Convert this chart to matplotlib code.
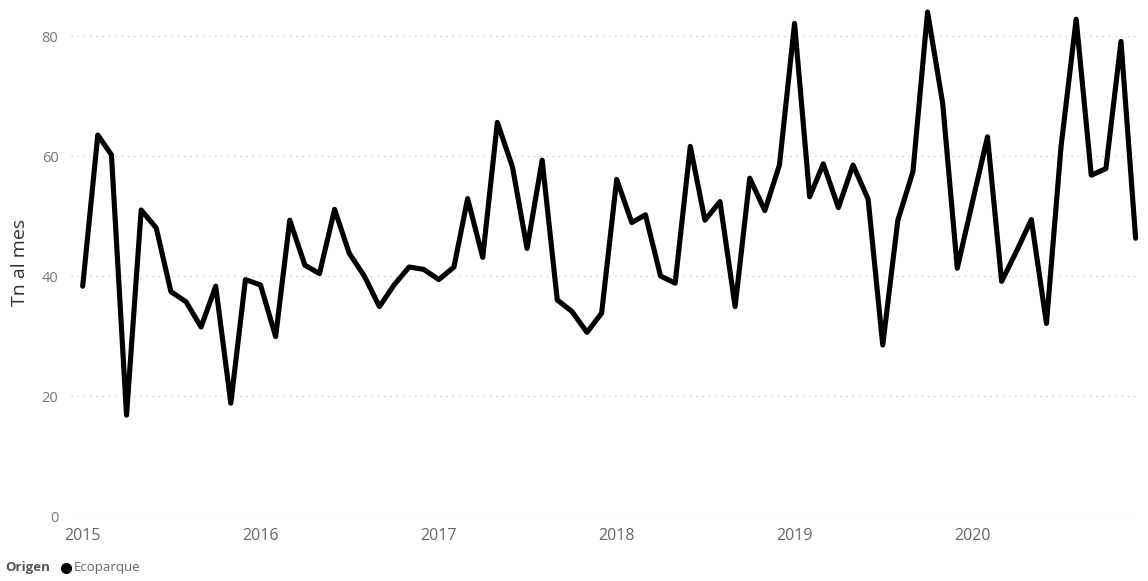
import matplotlib
matplotlib.use("Agg")
import matplotlib.pyplot as plt
import pandas as pd
import numpy as np

# ---- data ----
start_month = "2015-01-01"
values = [
    38.3, 63.5, 60.2, 16.8, 51.0, 48.0, 37.4, 35.7, 31.5, 38.3, 18.8, 39.4,   # 2015
    38.5, 29.9, 49.3, 41.8, 40.4, 51.1, 43.8, 40.0, 34.9, 38.5, 41.5, 41.1,   # 2016
    39.4, 41.5, 52.9, 43.1, 65.6, 58.2, 44.6, 59.3, 36.0, 34.1, 30.6, 33.8,   # 2017
    56.1, 48.9, 50.2, 40.0, 38.8, 61.6, 49.3, 52.4, 34.9, 56.3, 50.9, 58.5,   # 2018
    82.1, 53.2, 58.7, 51.4, 58.5, 52.8, 28.5, 49.3, 57.4, 84.0, 68.8, 41.3,   # 2019
    52.3, 63.2, 39.1, 44.2, 49.4, 32.1, 61.6, 82.8, 56.8, 57.9, 79.1, 46.3,   # 2020
]
year_labels = ["2015", "2016", "2017", "2018", "2019", "2020"]
y_ticks = [0, 20, 40, 60, 80]
series_name = "Ecoparque"
legend_title = "Origen"
y_title = "Tn al mes"

dates = pd.date_range(start_month, periods=len(values), freq="MS")
year_ticks = pd.to_datetime([f"{y}-01-01" for y in year_labels])

# ---- figure ----
W, H = 1148, 581
fig = plt.figure(figsize=(W / 100, H / 100), dpi=100)
ax = fig.add_axes([71 / W, 65 / H, (1140 - 71) / W, 516 / H])

ax.plot(dates, values, color="black", linewidth=3.7,
        solid_joinstyle="round", solid_capstyle="round", clip_on=True)

ax.set_ylim(0, 86)
ax.set_xlim(dates[0] - pd.Timedelta(days=24), dates[-1] + pd.Timedelta(days=9))

ax.set_yticks(y_ticks)
ax.set_yticklabels([str(v) for v in y_ticks])
ax.set_xticks(year_ticks)
ax.set_xticklabels(year_labels)

ax.grid(axis="y", color="#c8c8c8", linewidth=0.9, linestyle=(0, (1, 4)))
ax.grid(axis="x", visible=False)
ax.set_axisbelow(True)
for s in ax.spines.values():
    s.set_visible(False)

ax.tick_params(axis="y", length=0, pad=9, labelsize=10.5, labelcolor="#707a85")
ax.tick_params(axis="x", length=0, pad=9, labelsize=11.5, labelcolor="#666666")
for t in ax.get_yticklabels() + ax.get_xticklabels():
    t.set_fontfamily("Open Sans")

fig.text(20 / W, 1 - 262 / H, y_title, rotation=90, ha="center", va="center",
         fontsize=14, color="#333333", family="Open Sans")

# legend
fig.text(5 / W, 1 - 568 / H, legend_title, ha="left", va="center",
         fontsize=9.5, fontweight="bold", color="#555555", family="Open Sans")
fig.add_artist(plt.Line2D([66 / W], [1 - 567.5 / H], marker="o", markersize=7,
                          color="black", linestyle="none",
                          transform=fig.transFigure))
fig.text(73.5 / W, 1 - 568 / H, series_name, ha="left", va="center",
         fontsize=9.5, color="#666666", family="Open Sans")

fig.savefig("out.png", dpi=100)
